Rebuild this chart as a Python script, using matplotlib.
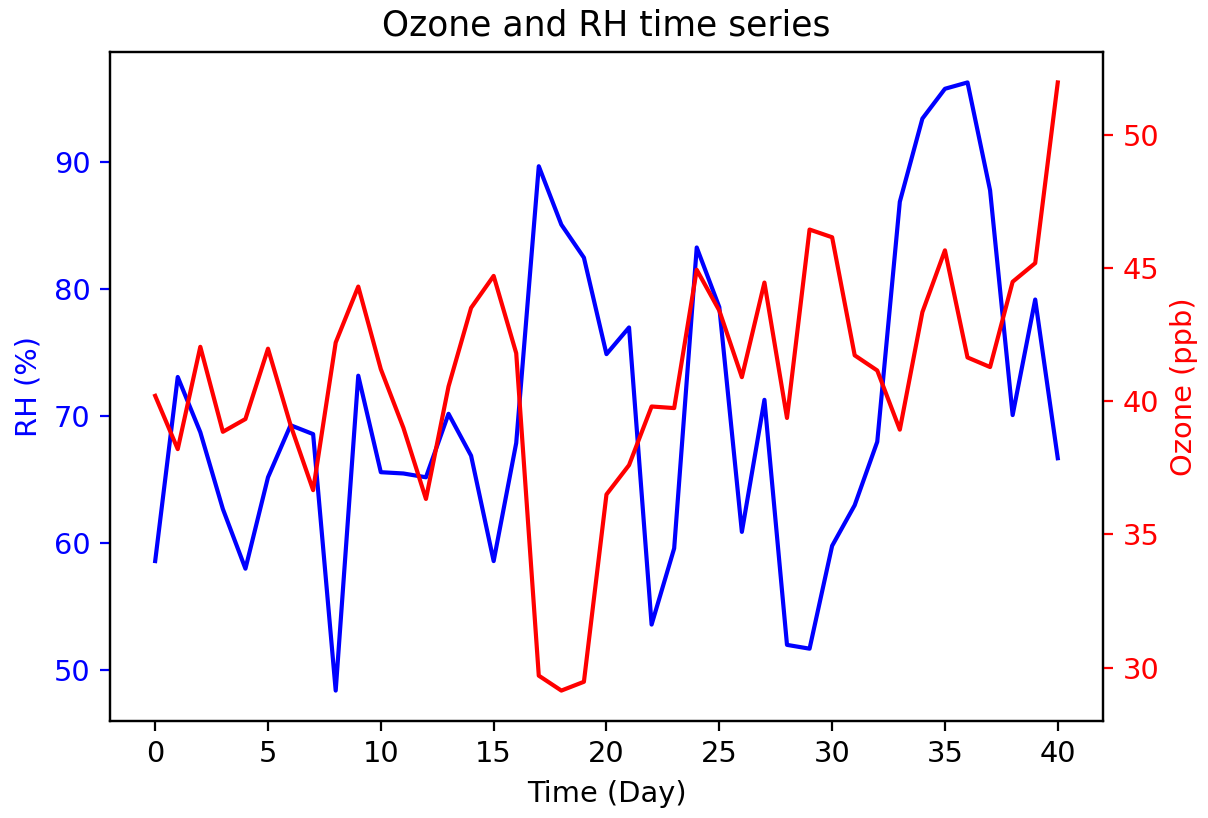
import matplotlib
matplotlib.use('Agg')
from matplotlib import pyplot as plt

days = list(range(41))
rh = [58.6, 73.1, 68.75, 62.7, 58.0, 65.2, 69.3, 68.6, 48.4, 73.2,
      65.6, 65.5, 65.2, 70.2, 66.9, 58.6, 67.9, 89.7, 85.1, 82.5,
      74.9, 77.0, 53.6, 59.6, 83.3, 78.6, 60.9, 71.3, 52.0, 51.7,
      59.8, 63.0, 68.0, 86.9, 93.45, 95.8, 96.3, 87.8, 70.1, 79.2,
      66.7]
ozone = [40.2, 38.2, 42.04, 38.85, 39.33, 41.97, 39.1, 36.66, 42.2, 44.3,
         41.2, 39.0, 36.33, 40.55, 43.5, 44.7, 41.8, 29.7, 29.14, 29.47,
         36.5, 37.6, 39.8, 39.74, 44.93, 43.4, 40.9, 44.45, 39.37, 46.44,
         46.15, 41.72, 41.15, 38.93, 43.34, 45.66, 41.64, 41.28, 44.48, 45.18,
         51.96]

plt.rcParams['font.size'] = 10.4

fig = plt.figure(figsize=(6.04, 4.09), dpi=200)
ax = fig.add_axes([0.0911, 0.1186, 0.8219, 0.8178])
ax.plot(days, rh, color='blue')
ax.set_xlabel('Time (Day)')
ax.set_ylabel('RH (%)', color='blue')
ax.tick_params(axis='y', colors='blue')
ax.spines['left'].set_color('black')

ax2 = ax.twinx()
ax2.plot(days, ozone, color='red')
ax2.set_ylabel('Ozone (ppb)', color='red')
ax2.tick_params(axis='y', colors='red')
ax2.spines['right'].set_color('black')

ax.set_title('Ozone and RH time series', fontsize=12.45)

plt.savefig('out.png')
